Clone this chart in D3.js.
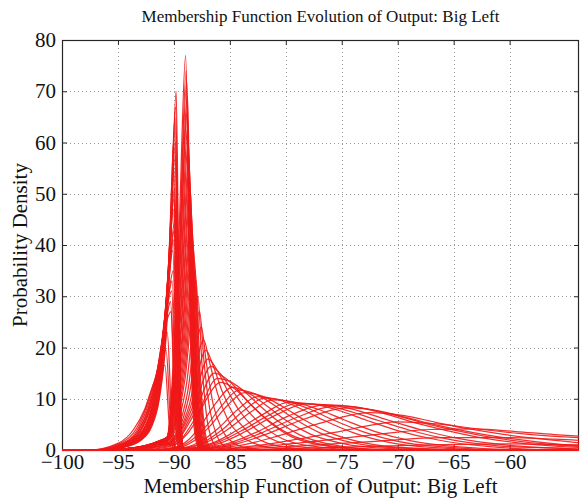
<!DOCTYPE html>
<html><head><meta charset="utf-8">
<script src="https://cdn.jsdelivr.net/npm/d3@7"></script>
<style>body{margin:0;background:#fff}</style>
</head><body><svg id="c" width="581" height="499"></svg>
<script>
// ---- data ----
const titleText = "Membership Function Evolution of Output: Big Left";
const xLabelText = "Membership Function of Output: Big Left";
const yLabelText = "Probability Density";
const xTicks = [-100, -95, -90, -85, -80, -75, -70, -65, -60];
const yTicks = [0, 10, 20, 30, 40, 50, 60, 70, 80];
const xDomain = [-100, -53.8];
const yDomain = [0, 80];

// left spike family (peak near -90, left tail, steep right side)
const leftSpikes = [
  [[-96,0],[-94.5,0.5],[-93,1.8],[-92,4.5],[-91.3,10],[-90.7,22],[-90.3,40],[-89.8,70],[-89.55,30],[-89.35,6],[-89.15,0]],
  [[-96.1,0],[-94.5,0.55],[-93,1.9],[-92,4.8],[-91.3,10.5],[-90.7,23],[-90.3,41],[-89.85,67],[-89.55,28],[-89.35,5.5],[-89.15,0]],
  [[-96,0],[-94.5,0.6],[-93,2],[-92,5],[-91.3,11],[-90.7,24],[-90.35,42],[-89.9,65],[-89.6,27],[-89.4,5],[-89.2,0]],
  [[-96.2,0],[-94.5,0.65],[-93,2.1],[-92,5.3],[-91.3,11.5],[-90.75,24.5],[-90.4,40],[-89.95,62],[-89.6,25],[-89.4,4.5],[-89.2,0]],
  [[-96.2,0],[-94.5,0.6],[-93,2.2],[-92,5.5],[-91.3,12],[-90.75,25],[-90.35,41],[-89.85,60],[-89.55,24],[-89.35,4],[-89.1,0]],
  [[-96.3,0],[-94.5,0.7],[-93,2.3],[-92,5.8],[-91.35,12],[-90.8,25],[-90.4,38],[-89.9,57],[-89.55,22],[-89.35,3.8],[-89.1,0]],
  [[-96.2,0],[-94.5,0.7],[-93,2.4],[-92,6],[-91.35,12.5],[-90.8,25],[-90.4,39],[-90.0,55],[-89.65,21],[-89.4,3.5],[-89.2,0]],
  [[-96.4,0],[-94.5,0.75],[-93,2.5],[-92,6.2],[-91.35,12.8],[-90.8,25],[-90.45,37],[-90.05,53],[-89.7,20],[-89.45,3.2],[-89.2,0]],
  [[-96.4,0],[-94.5,0.8],[-93,2.6],[-92,6.5],[-91.35,13],[-90.8,25],[-90.4,37],[-89.95,51],[-89.6,19],[-89.35,3],[-89.1,0]],
  [[-96.5,0],[-94.5,0.85],[-93,2.7],[-92.05,6.6],[-91.4,13.2],[-90.85,25],[-90.45,36],[-90.0,49],[-89.65,18],[-89.4,3],[-89.15,0]],
  [[-96.4,0],[-94.5,0.8],[-93,2.8],[-92.1,6.5],[-91.4,13.5],[-90.85,25],[-90.45,36],[-90.05,47],[-89.7,17],[-89.45,3],[-89.2,0]],
  [[-96.5,0],[-94.5,0.85],[-93,2.9],[-92.1,6.8],[-91.4,13.8],[-90.85,25],[-90.4,35.5],[-89.9,45],[-89.55,16],[-89.3,2.7],[-89.05,0]],
  [[-96.6,0],[-94.5,0.9],[-93,3],[-92.1,7],[-91.4,14],[-90.85,25],[-90.4,35],[-89.95,43],[-89.6,15],[-89.35,2.5],[-89.1,0]],
  [[-96.7,0],[-94.5,0.95],[-93,3.1],[-92.1,7.2],[-91.45,14],[-90.9,24.5],[-90.45,33],[-90.05,41],[-89.7,14],[-89.45,2.3],[-89.2,0]],
  [[-96.6,0],[-94.5,1],[-93,3.2],[-92.1,7.5],[-91.45,14],[-90.9,24],[-90.5,32],[-90.1,39],[-89.75,13],[-89.5,2],[-89.25,0]],
  [[-96.8,0],[-94.5,1],[-93.1,3.3],[-92.2,7.5],[-91.5,14],[-90.95,23],[-90.5,30],[-90.05,35],[-89.7,11],[-89.45,2],[-89.2,0]],
  [[-96.8,0],[-94.5,1.05],[-93.1,3.4],[-92.2,7.8],[-91.5,14],[-90.95,22.5],[-90.55,29],[-90.15,33],[-89.8,10.5],[-89.55,1.8],[-89.3,0]],
  [[-96.8,0],[-94.5,1.1],[-93.1,3.5],[-92.2,8],[-91.55,14],[-91.0,22],[-90.6,28],[-90.2,31],[-89.85,10],[-89.6,1.5],[-89.35,0]],
  [[-96.9,0],[-94.6,1.15],[-93.2,3.6],[-92.3,8],[-91.6,14],[-91.05,21.5],[-90.6,26.5],[-90.3,29],[-89.95,9],[-89.7,1.4],[-89.45,0]],
  [[-97,0],[-94.6,1.2],[-93.2,3.7],[-92.3,8],[-91.6,14],[-91.05,21],[-90.6,25.5],[-90.25,27],[-89.9,8],[-89.65,1.2],[-89.4,0]],
  [[-97.2,0],[-94.7,1.2],[-93.3,3.8],[-92.4,8.2],[-91.7,13.5],[-91.1,19.5],[-90.6,23],[-90.2,6.5],[-89.9,1],[-89.6,0]],
  [[-97.4,0],[-94.8,1.3],[-93.4,4],[-92.5,8.2],[-91.8,13],[-91.2,17.5],[-90.7,19.5],[-90.3,5.5],[-90.0,0.8],[-89.7,0]],
  [[-97.6,0],[-95,1.3],[-93.6,4],[-92.6,8],[-91.9,12.5],[-91.3,15.5],[-90.8,16.5],[-90.4,4.5],[-90.1,0.6],[-89.8,0]]
];

// right spike family (peak moving right from -89 as it lowers)
const rightSpikes = [
  [[-95.5,0],[-94,0.3],[-92.5,0.9],[-91.3,1.8],[-90.6,2.6],[-89.55,42],[-88.95,77],[-88.65,36],[-88.35,10],[-88.0,1.5],[-87.6,0]],
  [[-95.6,0],[-94,0.3],[-92.5,0.9],[-91.3,1.8],[-90.6,2.55],[-89.5,40],[-88.9,74],[-88.6,34],[-88.28,9.5],[-87.92,1.4],[-87.55,0]],
  [[-95.6,0],[-94,0.3],[-92.5,0.9],[-91.3,1.8],[-90.6,2.5],[-89.5,38],[-88.85,72],[-88.55,33],[-88.2,9],[-87.85,1.4],[-87.5,0]],
  [[-95.7,0],[-94,0.3],[-92.5,0.85],[-91.3,1.75],[-90.6,2.45],[-89.5,35],[-88.78,69],[-88.48,31],[-88.15,8.5],[-87.8,1.3],[-87.45,0]],
  [[-95.7,0],[-94,0.3],[-92.5,0.8],[-91.3,1.7],[-90.6,2.4],[-89.5,33],[-88.8,66],[-88.5,30],[-88.15,8],[-87.8,1.2],[-87.4,0]],
  [[-95.8,0],[-94,0.3],[-92.5,0.8],[-91.3,1.7],[-90.6,2.35],[-89.45,31],[-88.75,63],[-88.45,28],[-88.1,8],[-87.75,1.1],[-87.4,0]],
  [[-95.8,0],[-94,0.3],[-92.5,0.8],[-91.3,1.7],[-90.6,2.3],[-89.45,29],[-88.7,60],[-88.4,27],[-88.05,7.5],[-87.7,1.1],[-87.35,0]],
  [[-95.9,0],[-94,0.3],[-92.5,0.8],[-91.3,1.65],[-90.6,2.25],[-89.4,27.5],[-88.65,57],[-88.35,26],[-88.0,7.2],[-87.65,1],[-87.3,0]],
  [[-95.8,0],[-94,0.3],[-92.5,0.8],[-91.3,1.6],[-90.6,2.2],[-89.4,26],[-88.6,55],[-88.3,25],[-87.95,7],[-87.6,1],[-87.3,0]],
  [[-96,0],[-94,0.3],[-92.4,0.8],[-91.3,1.6],[-90.6,2.15],[-89.35,24.5],[-88.55,52],[-88.25,24],[-87.9,6.8],[-87.55,1],[-87.25,0]],
  [[-96,0],[-94,0.3],[-92.4,0.8],[-91.3,1.6],[-90.6,2.1],[-89.35,23],[-88.5,50],[-88.2,23],[-87.85,6.5],[-87.5,1],[-87.2,0]],
  [[-96,0],[-94,0.3],[-92.4,0.75],[-91.3,1.55],[-90.6,2.05],[-89.3,21.5],[-88.45,47],[-88.15,22],[-87.8,6.2],[-87.45,1],[-87.15,0]],
  [[-96,0],[-94,0.3],[-92.4,0.7],[-91.3,1.5],[-90.6,2],[-89.3,20],[-88.4,45],[-88.1,21],[-87.75,6],[-87.4,1],[-87.1,0]],
  [[-96.1,0],[-94,0.3],[-92.4,0.7],[-91.25,1.5],[-90.6,1.95],[-89.25,19],[-88.35,43],[-88.05,20],[-87.7,6],[-87.35,1],[-87.05,0]],
  [[-96,0],[-94,0.3],[-92.4,0.7],[-91.2,1.5],[-90.6,1.9],[-89.2,18],[-88.3,41],[-88.0,19],[-87.65,6],[-87.3,1],[-87.0,0]],
  [[-96.1,0],[-94,0.3],[-92.4,0.7],[-91.2,1.45],[-90.6,1.85],[-89.15,17],[-88.22,39],[-87.92,18.5],[-87.57,6],[-87.22,1.1],[-86.9,0]],
  [[-96.2,0],[-94,0.3],[-92.4,0.7],[-91.2,1.4],[-90.6,1.8],[-89.1,16],[-88.15,37],[-87.85,18],[-87.5,6],[-87.15,1.2],[-86.8,0]],
  [[-96.2,0],[-94,0.3],[-92.35,0.7],[-91.2,1.4],[-90.6,1.75],[-89.05,15],[-88.08,35],[-87.78,17.5],[-87.42,6],[-87.07,1.3],[-86.65,0]],
  [[-96.2,0],[-94,0.3],[-92.3,0.7],[-91.2,1.4],[-90.6,1.7],[-89.0,14],[-88.0,33],[-87.7,17],[-87.35,6],[-87.0,1.5],[-86.5,0]],
  [[-96.3,0],[-94,0.3],[-92.3,0.6],[-91.2,1.3],[-90.6,1.6],[-88.9,12.5],[-87.85,30],[-87.5,17],[-87.1,7],[-86.6,2],[-86.0,0.3],[-85,0]],
  [[-96.4,0],[-94,0.3],[-92.3,0.6],[-91.2,1.3],[-90.55,1.5],[-88.8,11],[-87.7,27],[-87.3,17],[-86.8,8],[-86.2,3],[-85.4,0.7],[-84,0]],
  [[-96.4,0],[-94,0.3],[-92.3,0.6],[-91.2,1.2],[-90.5,1.4],[-88.7,10],[-87.55,24],[-87.1,17],[-86.5,9],[-85.7,4],[-84.6,1.3],[-83,0.2],[-81,0]]
];

// transition family (rounded peak near -87, decaying right tail)
const transitionCurves = [
  [[-95,0],[-93,0.4],[-91.5,1],[-90.5,1.4],[-88.6,9],[-87.35,21.5],[-86.8,17],[-86.1,11],[-85.2,6],[-84,2.8],[-82.3,0.9],[-80,0.2],[-77,0]],
  [[-95,0],[-93,0.4],[-91.5,1],[-90.4,1.3],[-88.5,8.5],[-87.15,19.5],[-86.5,16.5],[-85.7,11.5],[-84.7,7],[-83.4,3.6],[-81.6,1.3],[-79,0.3],[-76,0]],
  [[-94.5,0],[-92.5,0.4],[-91,0.9],[-90.3,1.3],[-88.4,8],[-86.95,17.8],[-86.2,15.8],[-85.3,12],[-84.2,7.8],[-82.8,4.3],[-80.8,1.7],[-78.3,0.5],[-74,0]],
  [[-94.5,0],[-92.5,0.4],[-91,0.9],[-90.2,1.2],[-88.3,7.5],[-86.7,16.3],[-85.9,15],[-84.9,12],[-83.7,8.4],[-82.2,5],[-80.3,2.2],[-77.8,0.8],[-73,0]],
  [[-94,0],[-92,0.4],[-90.8,0.9],[-90.1,1.2],[-88.2,7],[-86.4,15],[-85.5,14.2],[-84.4,12],[-83.1,8.8],[-81.5,5.5],[-79.6,2.7],[-77,1],[-72,0]],
  [[-94,0],[-92,0.3],[-90.5,0.8],[-89.8,1.2],[-88,6.5],[-86.1,14],[-85.1,13.5],[-83.9,11.8],[-82.5,9],[-80.8,5.8],[-78.8,3],[-76,1.1],[-71,0]]
];

// wide family (peak moving right, flattening)
const wideCurves = [
  [[-93,0],[-90.5,0.6],[-89.3,2],[-88.2,5],[-87.2,9.5],[-85.8,13.2],[-84.6,12],[-83.2,9],[-81.6,5.8],[-79.6,3],[-77,1.2],[-73.5,0.3],[-69,0]],
  [[-92.5,0],[-90,0.5],[-88.8,1.8],[-87.6,4.8],[-86.3,9],[-84.8,12.2],[-83.4,11.2],[-81.8,8.8],[-80,5.8],[-77.8,3.1],[-75,1.3],[-71,0.3],[-66,0]],
  [[-92,0],[-89.8,0.5],[-88.5,1.8],[-87.1,4.7],[-85.7,8.7],[-84.2,11.7],[-82.7,10.9],[-81,8.7],[-79.1,5.9],[-76.9,3.3],[-74,1.4],[-70,0.4],[-64,0]],
  [[-92,0],[-89.5,0.5],[-88.2,1.8],[-86.8,4.6],[-85.3,8.5],[-83.7,11.2],[-82.1,10.5],[-80.3,8.5],[-78.3,5.8],[-76,3.3],[-73,1.4],[-69,0.4],[-63,0]],
  [[-91.5,0],[-89,0.5],[-87.6,1.7],[-86,4.3],[-84.3,7.9],[-82.5,10.4],[-80.8,9.9],[-78.8,8.2],[-76.6,5.8],[-74,3.4],[-71,1.6],[-67,0.5],[-61,0]],
  [[-91,0],[-88.7,0.5],[-87.3,1.6],[-85.6,4.1],[-83.8,7.6],[-81.9,10.1],[-80,9.6],[-78,8.1],[-75.7,5.8],[-73,3.5],[-70,1.7],[-66,0.6],[-60,0]],
  [[-91,0],[-88.5,0.5],[-87,1.6],[-85.2,4],[-83.2,7.3],[-81.2,9.8],[-79.3,9.4],[-77.2,8],[-74.8,5.9],[-72,3.6],[-68.8,1.8],[-64.5,0.6],[-58,0]],
  [[-90.5,0],[-88,0.5],[-86.4,1.5],[-84.4,3.8],[-82,7],[-79.8,9.3],[-77.7,9.0],[-75.4,7.8],[-72.8,5.8],[-70,3.8],[-66.5,2],[-62,0.7],[-55,0]],
  [[-90.2,0],[-87.8,0.5],[-86.1,1.5],[-84,3.7],[-81.5,6.8],[-79,9.1],[-76.8,8.8],[-74.5,7.7],[-71.8,5.8],[-69,3.9],[-65.5,2.1],[-61,0.8],[-54,0.1]],
  [[-90,0],[-87.5,0.5],[-85.8,1.4],[-83.6,3.6],[-81,6.7],[-78.2,9.0],[-75.8,8.7],[-73.4,7.6],[-70.8,5.8],[-68,4],[-64.5,2.2],[-60,0.9],[-53.8,0.2]],
  [[-89.5,0],[-87,0.5],[-85,1.4],[-82.6,3.5],[-79.8,6.6],[-76.4,8.8],[-73.8,8.4],[-71.2,7.1],[-68.6,5.4],[-65.6,3.8],[-62,2.2],[-57.5,1],[-53.8,0.5]],
  [[-89.2,0],[-86.8,0.4],[-84.7,1.3],[-82.1,3.4],[-79.1,6.3],[-75.4,8.6],[-72.7,8],[-70.1,6.7],[-67.4,5.1],[-64.3,3.6],[-60.8,2.2],[-56.5,1.1],[-53.8,0.7]],
  [[-89,0],[-86.5,0.4],[-84.4,1.2],[-81.6,3.2],[-78.4,6],[-74.5,8.2],[-71.6,7.6],[-69,6.2],[-66.2,4.7],[-63,3.3],[-59.5,2.1],[-55.5,1.1],[-53.8,0.8]],
  [[-88.5,0],[-86,0.4],[-83.6,1.1],[-80.6,2.8],[-77,5.2],[-72.5,7.3],[-69.4,6.7],[-66.6,5.4],[-63.6,4.1],[-60.4,3],[-57,2.1],[-53.8,1.4]],
  [[-88,0],[-85.5,0.3],[-82.5,0.9],[-79,2.1],[-75,3.7],[-70,5.5],[-66,5.0],[-62.5,4.0],[-59,3.2],[-55.5,2.6],[-53.8,2.4]],
  [[-87.5,0],[-84.5,0.3],[-81,0.9],[-77,1.8],[-72,3],[-67,4],[-63,4.1],[-59.5,3.6],[-56,3.0],[-53.8,2.7]],
  [[-87,0],[-83,0.3],[-78,0.9],[-72,1.7],[-66,2.4],[-60,2.4],[-56,2.1],[-53.8,1.9]],
  [[-86.5,0],[-81,0.2],[-74,0.6],[-67,1.0],[-60,1.2],[-53.8,1.0]]
];

// ---- drawing ----
const svg = d3.select("#c");
const L = 62, R = 579, T = 40, B = 450;
const x = d3.scaleLinear().domain(xDomain).range([L, R]);
const y = d3.scaleLinear().domain(yDomain).range([B, T]);
const serif = "'Liberation Serif','Times New Roman',serif";
const ink = "#262626";

// grid
const grid = svg.append("g").attr("stroke", "#9a9a9a").attr("stroke-width", 1).attr("stroke-dasharray", "1,3");
grid.selectAll("line.vx").data(xTicks.filter(t => x(t) > L + 1 && x(t) < R - 1)).join("line")
  .attr("x1", d => Math.round(x(d)) + 0.5).attr("x2", d => Math.round(x(d)) + 0.5)
  .attr("y1", T).attr("y2", B);
grid.selectAll("line.hy").data(yTicks.filter(t => y(t) > T + 1 && y(t) < B - 1)).join("line")
  .attr("y1", d => Math.round(y(d)) + 0.5).attr("y2", d => Math.round(y(d)) + 0.5)
  .attr("x1", L).attr("x2", R);

// axes (inward ticks on all four sides)
function styleAxis(g, fs) {
  g.select(".domain").remove();
  g.selectAll(".tick line").attr("stroke", ink);
  g.attr("font-family", serif).attr("font-size", fs);
  g.selectAll(".tick text").attr("fill", "#111");
}
svg.append("g").attr("transform", `translate(0,${B})`)
  .call(d3.axisBottom(x).tickValues(xTicks).tickSize(-5).tickPadding(4))
  .call(g => styleAxis(g, 21));
svg.append("g").attr("transform", `translate(0,${T})`)
  .call(d3.axisTop(x).tickValues(xTicks).tickSize(-5).tickFormat(""))
  .call(g => styleAxis(g, 21));
svg.append("g").attr("transform", `translate(${L},0)`)
  .call(d3.axisLeft(y).tickValues(yTicks).tickSize(-5).tickPadding(6))
  .call(g => styleAxis(g, 21));
svg.append("g").attr("transform", `translate(${R},0)`)
  .call(d3.axisRight(y).tickValues(yTicks).tickSize(-5).tickFormat(""))
  .call(g => styleAxis(g, 21));

svg.append("rect").attr("x", L + 0.5).attr("y", T + 0.5).attr("width", R - L - 1).attr("height", B - T)
  .attr("fill", "none").attr("stroke", ink).attr("stroke-width", 1.2);

// curves
svg.append("clipPath").attr("id", "clip").append("rect")
  .attr("x", L).attr("y", T).attr("width", R - L).attr("height", B - T + 1.5);
const line = d3.line().x(d => x(d[0])).y(d => y(d[1])).curve(d3.curveMonotoneX);
function extend(c) {
  const pts = c.slice();
  if (pts[0][0] > xDomain[0]) pts.unshift([xDomain[0], 0]);
  if (pts[pts.length - 1][0] < xDomain[1]) pts.push([xDomain[1], 0]);
  return pts;
}
const allCurves = [...wideCurves, ...transitionCurves, ...rightSpikes, ...leftSpikes];
svg.append("g").attr("clip-path", "url(#clip)")
  .selectAll("path").data(allCurves).join("path")
  .attr("d", d => line(extend(d)))
  .attr("fill", "none").attr("stroke", "rgb(240,24,24)").attr("stroke-width", 1.25)
  .attr("stroke-opacity", 0.9);

// texts
svg.append("text").attr("x", (L + R) / 2).attr("y", 22).attr("text-anchor", "middle")
  .attr("font-family", serif).attr("font-size", 17).attr("fill", "#111").text(titleText);
svg.append("text").attr("x", (L + R) / 2).attr("y", 493).attr("text-anchor", "middle")
  .attr("font-family", serif).attr("font-size", 21).attr("fill", "#111").text(xLabelText);
svg.append("text").attr("transform", `translate(27,${(T + B) / 2}) rotate(-90)`).attr("text-anchor", "middle")
  .attr("font-family", serif).attr("font-size", 21).attr("fill", "#111").text(yLabelText);
</script></body></html>
